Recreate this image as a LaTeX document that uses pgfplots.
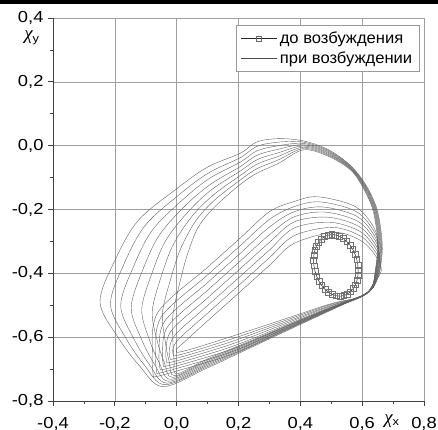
\documentclass[border=0pt]{standalone}
\usepackage{fontspec}
\setmainfont{Liberation Sans}[FakeStretch=1.15]
\newfontfamily\legfont{Liberation Sans}[FakeStretch=1.04]
\newfontfamily\chifont{Liberation Serif}
\usepackage{pgfplots}
\pgfplotsset{compat=1.18}
\begin{document}
\begin{tikzpicture}
\path[use as bounding box] (-53bp,-29bp) rectangle (385bp,401bp);
\begin{axis}[
  at={(0,0)}, anchor=south west,
  scale only axis, width=371bp, height=383bp,
  clip mode=individual,
  xmin=-0.4, xmax=0.8, ymin=-0.8, ymax=0.4,
  xtick={-0.4,-0.2,0,0.2,0.4,0.6,0.8},
  ytick={-0.8,-0.6,-0.4,-0.2,0,0.2,0.4},
  minor x tick num=1, minor y tick num=1,
  grid=major, grid style={gray!75, line width=0.6pt},
  axis x line*=bottom, axis y line*=left,
  axis line style={-, black!75, line width=0.8pt},
  tick align=outside, major tick length=5bp, minor tick length=3bp,
  tick style={black!75, line width=0.7pt},
  /pgf/number format/.cd, fixed, fixed zerofill, precision=1, use comma, assume math mode=true,
  /pgfplots/.cd,
  tick label style={font=\fontsize{16}{18}\selectfont},
  xticklabel style={yshift=-7.5bp},
  yticklabel style={xshift=-1bp},
  legend style={at={(1,1)}, anchor=north east, xshift=-4bp, yshift=-7bp,
    draw=gray!80, line width=0.6pt, font=\legfont\fontsize{16}{18}\selectfont,
    cells={anchor=west}, inner xsep=5bp, inner ysep=4bp, row sep=1.5bp,
    nodes={inner sep=2.5bp}},
  legend image code/.code={\draw[mark repeat=2,mark phase=2,#1] plot coordinates {(0bp,0bp) (18bp,0bp) (36bp,0bp)};},
  every axis plot/.append style={forget plot},
]
\addlegendimage{black!85, line width=0.5pt, mark=square, mark size=2.4bp, mark options={fill=white, draw=black!60}}
\addlegendentry{до возбуждения}
\addlegendimage{black!70, line width=0.45pt}
\addlegendentry{при возбуждении}

\pgfplotsset{thin curve/.style={black!62, line width=0.4pt, smooth, tension=0.55}}
% big loops
\addplot[thin curve] coordinates {(0.600,-0.470) (0.635,-0.445) (0.655,-0.400) (0.665,-0.330) (0.660,-0.260) (0.645,-0.190) (0.610,-0.120) (0.560,-0.060) (0.490,-0.012) (0.410,0.015) (0.330,0.022) (0.260,0.012) (0.205,-0.024) (0.100,-0.067) (0.000,-0.135) (-0.125,-0.235) (-0.200,-0.360) (-0.248,-0.490) (-0.190,-0.600) (-0.120,-0.690) (-0.044,-0.755) (0.100,-0.696) (0.250,-0.628) (0.400,-0.560) (0.520,-0.506) (0.600,-0.470)};
\addplot[thin curve] coordinates {(0.600,-0.470) (0.635,-0.445) (0.653,-0.400) (0.663,-0.330) (0.658,-0.260) (0.643,-0.190) (0.608,-0.120) (0.560,-0.062) (0.490,-0.015) (0.410,0.011) (0.330,0.011) (0.260,-0.002) (0.205,-0.038) (0.104,-0.085) (0.010,-0.152) (-0.102,-0.250) (-0.170,-0.370) (-0.214,-0.496) (-0.165,-0.602) (-0.104,-0.688) (-0.038,-0.749) (0.100,-0.692) (0.250,-0.625) (0.400,-0.558) (0.520,-0.505) (0.600,-0.470)};
\addplot[thin curve] coordinates {(0.600,-0.470) (0.635,-0.445) (0.651,-0.400) (0.661,-0.330) (0.656,-0.260) (0.641,-0.190) (0.606,-0.120) (0.560,-0.064) (0.490,-0.018) (0.410,0.007) (0.330,0.000) (0.260,-0.016) (0.205,-0.052) (0.107,-0.102) (0.020,-0.169) (-0.079,-0.265) (-0.140,-0.380) (-0.181,-0.501) (-0.139,-0.604) (-0.088,-0.686) (-0.031,-0.744) (0.100,-0.688) (0.250,-0.622) (0.400,-0.556) (0.520,-0.504) (0.600,-0.470)};
\addplot[thin curve] coordinates {(0.600,-0.470) (0.635,-0.445) (0.649,-0.400) (0.659,-0.330) (0.654,-0.260) (0.639,-0.190) (0.604,-0.120) (0.560,-0.066) (0.490,-0.021) (0.410,0.003) (0.330,-0.011) (0.260,-0.030) (0.205,-0.066) (0.111,-0.120) (0.030,-0.186) (-0.056,-0.280) (-0.110,-0.390) (-0.147,-0.507) (-0.114,-0.606) (-0.072,-0.684) (-0.025,-0.738) (0.100,-0.684) (0.250,-0.619) (0.400,-0.554) (0.520,-0.503) (0.600,-0.470)};
\addplot[thin curve] coordinates {(0.600,-0.470) (0.635,-0.445) (0.647,-0.400) (0.657,-0.330) (0.652,-0.260) (0.637,-0.190) (0.602,-0.120) (0.560,-0.068) (0.490,-0.024) (0.410,-0.001) (0.330,-0.022) (0.260,-0.044) (0.205,-0.080) (0.114,-0.137) (0.040,-0.204) (-0.034,-0.295) (-0.080,-0.400) (-0.113,-0.513) (-0.088,-0.609) (-0.056,-0.681) (-0.019,-0.732) (0.100,-0.680) (0.250,-0.616) (0.400,-0.552) (0.520,-0.502) (0.600,-0.470)};
\addplot[thin curve] coordinates {(0.600,-0.470) (0.635,-0.445) (0.645,-0.400) (0.655,-0.330) (0.650,-0.260) (0.635,-0.190) (0.600,-0.120) (0.560,-0.070) (0.490,-0.027) (0.410,-0.005) (0.330,-0.033) (0.260,-0.058) (0.205,-0.094) (0.118,-0.155) (0.050,-0.221) (-0.011,-0.310) (-0.050,-0.410) (-0.079,-0.519) (-0.063,-0.611) (-0.040,-0.679) (-0.013,-0.726) (0.100,-0.676) (0.250,-0.613) (0.400,-0.550) (0.520,-0.501) (0.600,-0.470)};
\addplot[thin curve] coordinates {(0.600,-0.470) (0.635,-0.445) (0.643,-0.400) (0.653,-0.330) (0.648,-0.260) (0.633,-0.190) (0.598,-0.120) (0.560,-0.072) (0.490,-0.030) (0.410,-0.009) (0.330,-0.044) (0.260,-0.072) (0.205,-0.108) (0.121,-0.172) (0.060,-0.238) (0.012,-0.325) (-0.020,-0.420) (-0.046,-0.524) (-0.037,-0.613) (-0.024,-0.677) (-0.006,-0.721) (0.100,-0.672) (0.250,-0.610) (0.400,-0.548) (0.520,-0.500) (0.600,-0.470)};
\addplot[thin curve] coordinates {(0.600,-0.470) (0.635,-0.445) (0.641,-0.400) (0.651,-0.330) (0.646,-0.260) (0.631,-0.190) (0.596,-0.120) (0.560,-0.074) (0.490,-0.033) (0.410,-0.013) (0.330,-0.055) (0.260,-0.086) (0.205,-0.122) (0.125,-0.190) (0.070,-0.255) (0.035,-0.340) (0.010,-0.430) (-0.012,-0.530) (-0.012,-0.615) (-0.008,-0.675) (0.000,-0.715) (0.100,-0.668) (0.250,-0.607) (0.400,-0.546) (0.520,-0.499) (0.600,-0.470)};
% middle loops
\addplot[thin curve] coordinates {(-0.075,-0.725) (-0.079,-0.654) (-0.060,-0.521) (0.100,-0.381) (0.205,-0.290) (0.300,-0.207) (0.380,-0.175) (0.455,-0.160) (0.570,-0.187) (0.625,-0.237) (0.650,-0.300) (0.635,-0.435) (0.600,-0.472) (0.500,-0.512) (0.350,-0.578) (0.180,-0.653) (-0.025,-0.713) (-0.075,-0.725)};
\addplot[thin curve] coordinates {(-0.064,-0.714) (-0.068,-0.651) (-0.049,-0.535) (0.100,-0.405) (0.205,-0.314) (0.300,-0.231) (0.380,-0.191) (0.463,-0.176) (0.574,-0.203) (0.628,-0.253) (0.652,-0.313) (0.635,-0.435) (0.600,-0.472) (0.500,-0.510) (0.350,-0.573) (0.180,-0.645) (-0.014,-0.702) (-0.064,-0.714)};
\addplot[thin curve] coordinates {(-0.053,-0.703) (-0.057,-0.649) (-0.038,-0.549) (0.100,-0.429) (0.205,-0.338) (0.300,-0.255) (0.380,-0.207) (0.471,-0.192) (0.578,-0.219) (0.631,-0.269) (0.653,-0.326) (0.635,-0.435) (0.600,-0.472) (0.500,-0.507) (0.350,-0.568) (0.180,-0.637) (-0.003,-0.691) (-0.053,-0.703)};
\addplot[thin curve] coordinates {(-0.042,-0.692) (-0.046,-0.647) (-0.027,-0.564) (0.100,-0.453) (0.205,-0.362) (0.300,-0.279) (0.380,-0.223) (0.479,-0.208) (0.582,-0.235) (0.634,-0.285) (0.655,-0.339) (0.635,-0.435) (0.600,-0.472) (0.500,-0.505) (0.350,-0.563) (0.180,-0.629) (0.008,-0.680) (-0.042,-0.692)};
\addplot[thin curve] coordinates {(-0.031,-0.681) (-0.035,-0.645) (-0.016,-0.578) (0.100,-0.477) (0.205,-0.386) (0.300,-0.303) (0.380,-0.239) (0.487,-0.224) (0.586,-0.251) (0.637,-0.301) (0.657,-0.352) (0.635,-0.435) (0.600,-0.472) (0.500,-0.502) (0.350,-0.558) (0.180,-0.621) (0.019,-0.669) (-0.031,-0.681)};
\addplot[thin curve] coordinates {(-0.020,-0.670) (-0.024,-0.643) (-0.005,-0.593) (0.100,-0.501) (0.205,-0.410) (0.300,-0.327) (0.380,-0.258) (0.495,-0.240) (0.590,-0.267) (0.640,-0.317) (0.658,-0.365) (0.635,-0.435) (0.600,-0.472) (0.500,-0.500) (0.350,-0.553) (0.180,-0.613) (0.030,-0.658) (-0.020,-0.670)};
\addplot[thin curve] coordinates {(-0.009,-0.659) (-0.013,-0.641) (0.006,-0.607) (0.100,-0.525) (0.205,-0.434) (0.300,-0.351) (0.380,-0.282) (0.503,-0.256) (0.594,-0.283) (0.643,-0.333) (0.660,-0.378) (0.635,-0.435) (0.600,-0.472) (0.500,-0.497) (0.350,-0.548) (0.180,-0.605) (0.041,-0.647) (-0.009,-0.659)};
\addplot[thin curve] coordinates {(0.002,-0.648) (-0.002,-0.639) (0.017,-0.622) (0.100,-0.549) (0.205,-0.458) (0.300,-0.375) (0.380,-0.306) (0.511,-0.272) (0.598,-0.299) (0.646,-0.349) (0.662,-0.391) (0.635,-0.435) (0.600,-0.472) (0.500,-0.495) (0.350,-0.543) (0.180,-0.597) (0.052,-0.636) (0.002,-0.648)};
% before excitation
\addplot[black!85, line width=0.5pt, mark=square, mark size=2.9bp, mark options={fill=white, draw=black!55, line width=0.5pt}] coordinates {
(0.4895,-0.2803) (0.5017,-0.2785) (0.5141,-0.2798) (0.5267,-0.2839) (0.5390,-0.2908) (0.5504,-0.3002)
(0.5607,-0.3118) (0.5698,-0.3255) (0.5772,-0.3406) (0.5826,-0.3568) (0.5860,-0.3736) (0.5872,-0.3903)
(0.5863,-0.4066) (0.5832,-0.4220) (0.5780,-0.4358) (0.5709,-0.4479) (0.5621,-0.4578) (0.5519,-0.4651)
(0.5405,-0.4697) (0.5283,-0.4715) (0.5159,-0.4702) (0.5033,-0.4661) (0.4910,-0.4592) (0.4796,-0.4498)
(0.4693,-0.4382) (0.4602,-0.4245) (0.4528,-0.4094) (0.4474,-0.3932) (0.4440,-0.3764) (0.4428,-0.3597)
(0.4437,-0.3434) (0.4468,-0.3280) (0.4520,-0.3142) (0.4591,-0.3021) (0.4679,-0.2922) (0.4781,-0.2849)
(0.4895,-0.2803)};
\end{axis}
\node[font=\fontsize{16}{18}\selectfont, anchor=base] at (-21bp,361bp) {{\chifont\itshape\fontsize{19}{20}\selectfont χ}\textsubscript{y}};
\node[font=\fontsize{16}{18}\selectfont, anchor=base] at (339bp,-22bp) {{\chifont\itshape\fontsize{19}{20}\selectfont χ}\textsubscript{x}};
\fill[black] (-53bp,397bp) rectangle (385bp,401bp);
\end{tikzpicture}
\end{document}
